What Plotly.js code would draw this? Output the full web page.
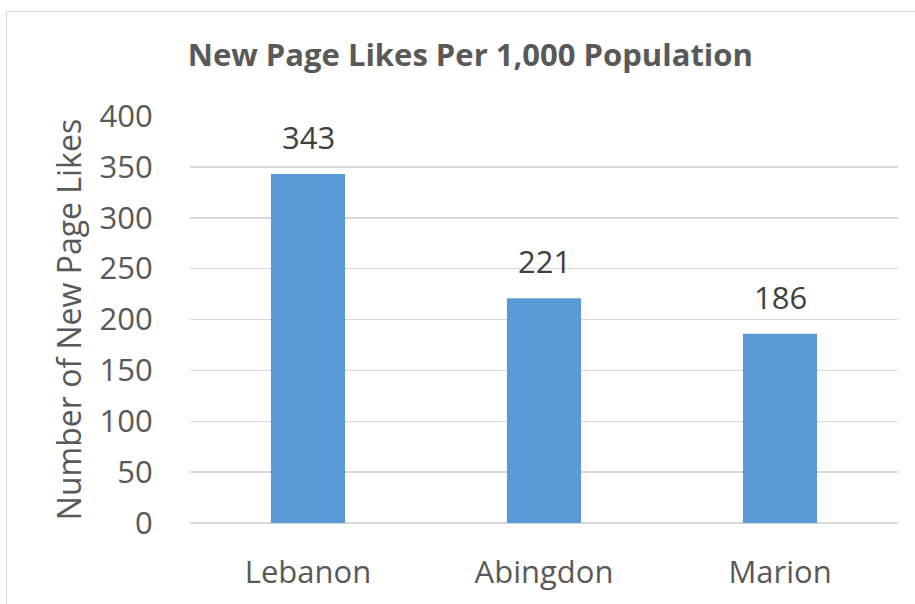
<!DOCTYPE html>
<html>
<head>
<meta charset="utf-8">
<script src="https://cdn.plot.ly/plotly-3.0.1.min.js"></script>
<style>
  html, body { margin: 0; padding: 0; background: #ffffff; }
  #wrap { position: relative; width: 915px; height: 604px; overflow: hidden; }
  #chart { width: 915px; height: 604px; }
  #frame { position: absolute; left: 6px; top: 11px; width: 1000px; height: 1000px;
           border-left: 1px solid #d9d9d9; border-top: 1px solid #d9d9d9; pointer-events: none; }
</style>
</head>
<body>
<div id="wrap">
  <div id="chart"></div>
  <div id="frame"></div>
</div>
<script>
const categories = ["Lebanon", "Abingdon", "Marion"];
const values = [343, 221, 186];
const yTicks = [0, 50, 100, 150, 200, 250, 300, 350, 400];

const FONT = "Open Sans, sans-serif";
const GRAY = "#595959";

const trace = {
  type: "bar",
  x: categories,
  y: values,
  width: 0.314,
  marker: { color: "#5b9bd5" },
  hoverinfo: "x+y"
};

const annotations = categories.map((c, i) => ({
  x: c, y: values[i], xref: "x", yref: "y",
  text: String(values[i]), showarrow: false,
  yanchor: "bottom", yshift: 14,
  font: { family: FONT, size: 31, color: "#404040" }
}));

const layout = {
  width: 915, height: 604,
  margin: { l: 190, r: 17, t: 116, b: 81 },
  paper_bgcolor: "#ffffff",
  plot_bgcolor: "#ffffff",
  showlegend: false,
  title: {
    text: "<b>New Page Likes Per 1,000 Population</b>",
    font: { family: FONT, size: 31, color: GRAY },
    x: 0.514, xanchor: "center", y: 0.909, yanchor: "middle"
  },
  xaxis: {
    type: "category",
    showgrid: false, zeroline: false, showline: false,
    ticks: "outside", ticklen: 22, tickcolor: "rgba(0,0,0,0)",
    tickfont: { family: FONT, size: 31, color: GRAY }
  },
  yaxis: {
    range: [0, 400],
    tickvals: yTicks,
    ticktext: yTicks.map(String),
    showgrid: true, gridcolor: "#d9d9d9", gridwidth: 1.5,
    zeroline: true, zerolinecolor: "#d9d9d9", zerolinewidth: 1.5,
    showline: false,
    ticks: "outside", ticklen: 30, tickcolor: "rgba(0,0,0,0)",
    tickfont: { family: FONT, size: 31, color: GRAY },
    title: { text: "Number of New Page Likes", standoff: 8,
             font: { family: FONT, size: 32, color: GRAY } }
  },
  annotations: annotations
};

Plotly.newPlot("chart", [trace], layout, { displayModeBar: false, staticPlot: true });
</script>
</body>
</html>
